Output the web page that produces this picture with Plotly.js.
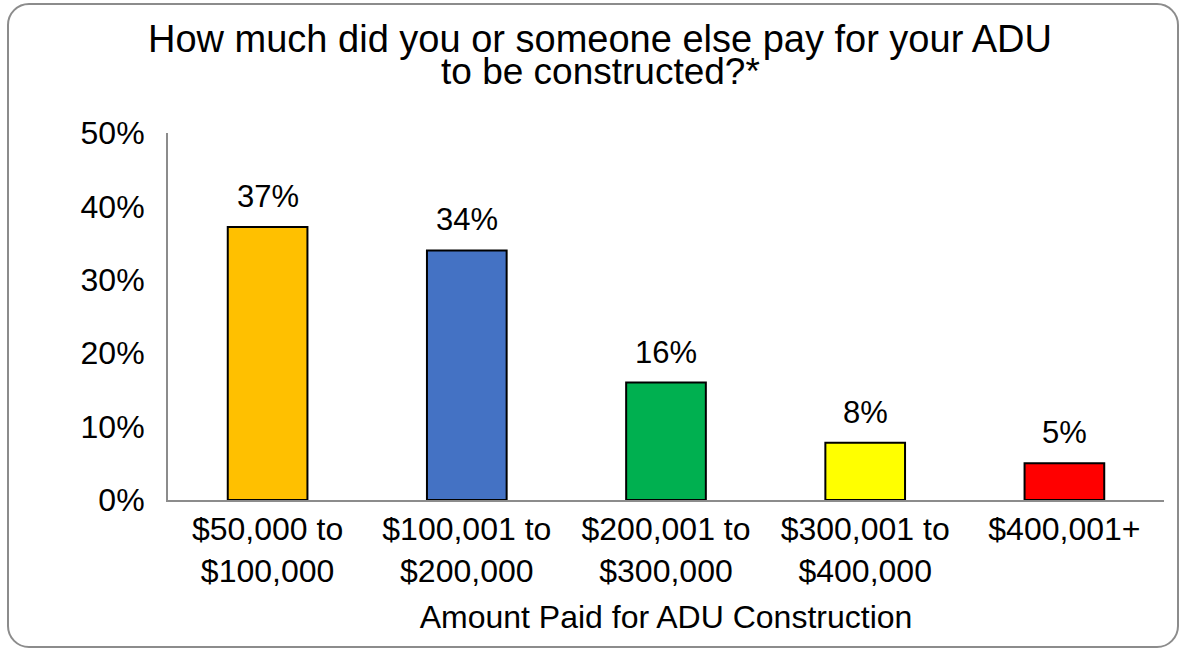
<!DOCTYPE html>
<html>
<head>
<meta charset="utf-8">
<script src="https://cdn.plot.ly/plotly-3.0.1.min.js"></script>
<style>
  html, body { margin: 0; padding: 0; background: #fff; }
  #wrap { position: relative; width: 1185px; height: 650px; overflow: hidden; }
  #frame { position: absolute; left: 7px; top: 3px; width: 1172px; height: 645px; border: 2px solid #8c8c8c; border-radius: 22px; box-sizing: border-box; pointer-events: none; }
  #chart { position: absolute; left: 0; top: 0; width: 1185px; height: 650px; }
</style>
</head>
<body>
<div id="wrap">
  <div id="chart"></div>
  <div id="frame"></div>
</div>
<script>
const titleLine1 = "How much did you or someone else pay for your ADU";
const titleLine2 = "to be constructed?*";
const categories = ["$50,000 to<br>$100,000", "$100,001 to<br>$200,000", "$200,001 to<br>$300,000", "$300,001 to<br>$400,000", "$400,001+"];
const values = [0.372, 0.34, 0.16, 0.078, 0.05];
const labels = ["37%", "34%", "16%", "8%", "5%"];
const colors = ["#FFC000", "#4472C4", "#00B050", "#FFFF00", "#FF0000"];
const yTicks = [0, 0.1, 0.2, 0.3, 0.4, 0.5];

const font = "Liberation Sans, Arial, Helvetica, sans-serif";

const trace = {
  type: "bar",
  x: categories,
  y: values,
  marker: { color: colors, line: { color: "#000", width: 2 } },
  hoverinfo: "none"
};

const annotations = categories.map((c, i) => ({
  x: c, y: values[i], xref: "x", yref: "y",
  text: labels[i], showarrow: false, yanchor: "bottom", yshift: 11,
  font: { family: font, size: 31, color: "#000" }
}));
annotations.push({
  text: titleLine2, xref: "paper", yref: "paper",
  x: (600 - 168) / 996, y: (500 - 94) / 367, xanchor: "center", yanchor: "bottom",
  showarrow: false, font: { family: font, size: 37, color: "#000" }
});

const layout = {
  width: 1185, height: 650,
  margin: { l: 168, r: 21, t: 133, b: 150 },
  paper_bgcolor: "rgba(0,0,0,0)", plot_bgcolor: "rgba(0,0,0,0)",
  bargap: 0.6,
  showlegend: false,
  title: {
    text: titleLine1,
    font: { family: font, size: 38, color: "#000" },
    x: 600 / 1185, xanchor: "center", xref: "container",
    y: 1 - 25 / 650, yanchor: "top", yref: "container"
  },
  xaxis: {
    type: "category",
    showline: true, linecolor: "#8c8c8c", linewidth: 2,
    showgrid: false, zeroline: false, ticks: "",
    tickfont: { family: font, size: 32, color: "#000" },
    title: { text: "Amount Paid for ADU Construction", font: { family: font, size: 32, color: "#000" }, standoff: 18 }
  },
  yaxis: {
    range: [0, 0.5],
    tickvals: yTicks,
    tickformat: ".0%",
    showline: true, linecolor: "#8c8c8c", linewidth: 2,
    showgrid: false, zeroline: false, ticks: "",
    ticklabelstandoff: 15,
    tickfont: { family: font, size: 32, color: "#000" }
  },
  annotations: annotations
};

Plotly.newPlot("chart", [trace], layout, { displayModeBar: false, staticPlot: true });
</script>
</body>
</html>
